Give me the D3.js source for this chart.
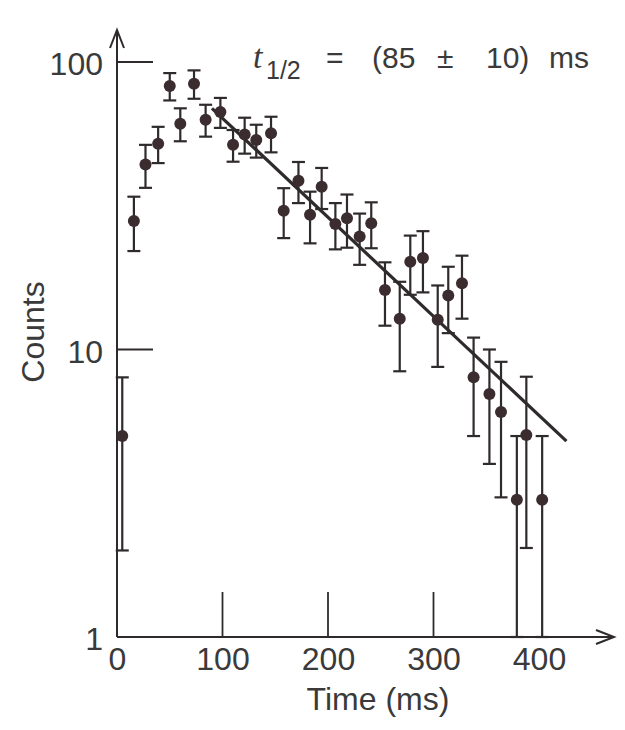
<!DOCTYPE html>
<html><head><meta charset="utf-8">
<script src="https://cdn.jsdelivr.net/npm/d3@7"></script>
<style>body{margin:0;background:#fff}</style>
</head><body>
<svg id="c" width="625" height="730"></svg>
<script>
// ---- data ----
const time   = [5, 16, 27, 39, 50, 60, 73, 84, 98, 110, 121, 132, 146, 158, 172, 183, 194, 207, 218, 230, 241, 254, 268, 278, 290, 304, 314, 327, 338, 353, 364, 379, 388, 403];
const counts = [5.0, 28, 44, 52, 82.5, 61, 84, 63, 67, 51.5, 56, 53.5, 56.5, 30.4, 38.6, 29.4, 36.8, 27.3, 28.6, 24.7, 27.5, 16.1, 12.8, 20.2, 20.8, 12.7, 15.4, 17.0, 8.0, 7.0, 6.06, 3.0, 5.04, 3.0];
const errors = [3, 6, 7.5, 7.5, 9, 8, 9.5, 8, 8, 6.5, 8, 7, 8, 6, 6.3, 6, 6, 5, 6, 5, 5, 4, 4.4, 4.7, 5, 4, 4, 4.2, 3, 3, 3, 2, 3, 2];
const fitTime   = [90, 426];
const fitCounts = [69, 4.8];
const xTickLabels = [0, 100, 200, 300, 400];
const xTickMarks  = [100, 200, 300];
const yTickLabels = [1, 10, 100];
const yTickMarks  = [10, 100];
const xLabel = "Time (ms)";
const yLabel = "Counts";

// ---- drawing ----
const ink = "#2f2a2c", dotInk = "#3b2c30", txt = "#3a3a3a";
const svg = d3.select("#c");
const x = d3.scaleLinear().domain([0, 400]).range([117, 539]);
const y = d3.scaleLog().domain([1, 100]).range([637, 62]);
const font = "'Liberation Sans', Arial, sans-serif";

// axes lines with arrows
const axisX0 = x(0), axisY0 = y(1);
svg.append("line").attr("x1", axisX0).attr("y1", axisY0).attr("x2", axisX0).attr("y2", 30)
  .attr("stroke", ink).attr("stroke-width", 2);
svg.append("path").attr("d", `M${axisX0-7},${48} L${axisX0},${30} L${axisX0+7},${48}`)
  .attr("fill", "none").attr("stroke", ink).attr("stroke-width", 2);
svg.append("line").attr("x1", axisX0).attr("y1", axisY0).attr("x2", 614).attr("y2", axisY0)
  .attr("stroke", ink).attr("stroke-width", 2);
svg.append("path").attr("d", `M${596},${axisY0-7} L${614},${axisY0} L${596},${axisY0+7}`)
  .attr("fill", "none").attr("stroke", ink).attr("stroke-width", 2);

// x axis labels
const gx = svg.append("g").attr("transform", `translate(0,${axisY0})`)
  .call(d3.axisBottom(x).tickValues(xTickLabels).tickSize(0).tickPadding(8).tickFormat(d3.format("d")));
gx.select(".domain").remove();
gx.selectAll("text").attr("font-family", font).attr("font-size", 32).attr("fill", txt).attr("dy", "0.78em");
// x tick marks (pointing up)
svg.append("g").selectAll("line").data(xTickMarks).join("line")
  .attr("x1", d => x(d)).attr("x2", d => x(d)).attr("y1", axisY0).attr("y2", axisY0 - 45)
  .attr("stroke", ink).attr("stroke-width", 1.8);

// y axis labels
const gy = svg.append("g").attr("transform", `translate(${axisX0},0)`)
  .call(d3.axisLeft(y).tickValues(yTickLabels).tickSize(0).tickPadding(14).tickFormat(d3.format("d")));
gy.select(".domain").remove();
gy.selectAll("text").attr("font-family", font).attr("font-size", 32).attr("fill", txt).attr("dy", "0.4em");
// y tick marks (pointing right)
svg.append("g").selectAll("line").data(yTickMarks).join("line")
  .attr("x1", axisX0).attr("x2", axisX0 + 36).attr("y1", d => y(d)).attr("y2", d => y(d))
  .attr("stroke", ink).attr("stroke-width", 1.8);

// axis titles
svg.append("text").attr("x", 378).attr("y", 710).attr("text-anchor", "middle")
  .attr("font-family", font).attr("font-size", 32).attr("fill", txt).text(xLabel);
svg.append("text").attr("transform", "translate(44,332) rotate(-90)").attr("text-anchor", "middle")
  .attr("font-family", font).attr("font-size", 32).attr("fill", txt).text(yLabel);

// fit line
const pts = fitTime.map((t, i) => [t, fitCounts[i]]);
svg.append("path").attr("d", d3.line().x(d => x(d[0])).y(d => y(d[1]))(pts))
  .attr("fill", "none").attr("stroke", ink).attr("stroke-width", 3.2);

// error bars + dots
const data = time.map((t, i) => ({t, v: counts[i], e: errors[i]}));
const cap = 6.5;
const eb = svg.append("g").attr("stroke", ink).attr("stroke-width", 2.2);
data.forEach(d => {
  const lo = Math.max(d.v - d.e, 1), hi = d.v + d.e;
  const cx = x(d.t);
  eb.append("line").attr("x1", cx).attr("x2", cx).attr("y1", y(lo)).attr("y2", y(hi));
  eb.append("line").attr("x1", cx - cap).attr("x2", cx + cap).attr("y1", y(hi)).attr("y2", y(hi));
  eb.append("line").attr("x1", cx - cap).attr("x2", cx + cap).attr("y1", y(lo)).attr("y2", y(lo));
});
svg.append("g").selectAll("circle").data(data).join("circle")
  .attr("cx", d => x(d.t)).attr("cy", d => y(d.v)).attr("r", 6).attr("fill", dotInk);

// annotation
const ann = svg.append("text").attr("y", 68).attr("fill", txt).attr("font-family", font).attr("font-size", 30);
ann.append("tspan").attr("x", 253).attr("font-family", "'Liberation Serif', serif").attr("font-style", "italic").attr("font-size", 34).text("t");
ann.append("tspan").attr("x", 266).attr("dy", 11).attr("font-size", 25).text("1/2");
ann.append("tspan").attr("x", 326).attr("dy", -11).text("=");
ann.append("tspan").attr("x", 372).text("(85");
ann.append("tspan").attr("x", 437).text("±");
ann.append("tspan").attr("x", 486).text("10)");
ann.append("tspan").attr("x", 549).text("ms");
</script>
</body></html>
